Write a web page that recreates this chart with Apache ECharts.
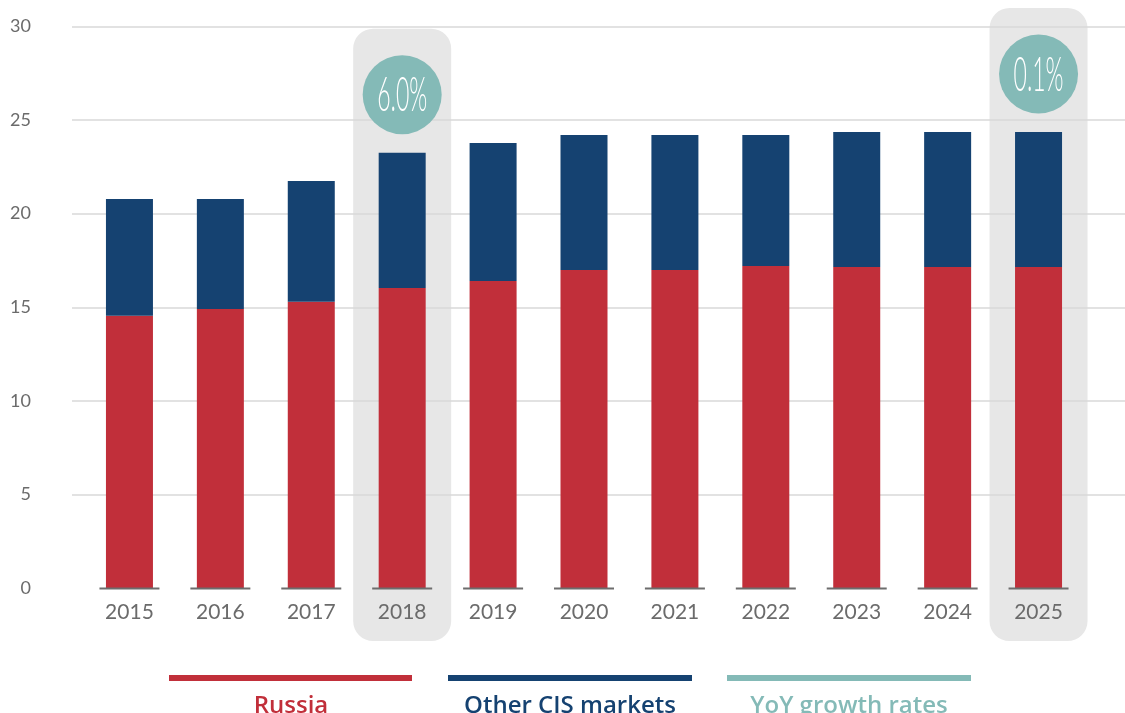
<!DOCTYPE html>
<html>
<head>
<meta charset="utf-8">
<script src="https://cdn.jsdelivr.net/npm/echarts@6/dist/echarts.min.js"></script>
<style>
html,body{margin:0;padding:0;background:#fff;}
#chart{width:1125px;height:713px;}
</style>
</head>
<body>
<div id="chart"></div>
<script>
// ---- data ----
var years = ['2015','2016','2017','2018','2019','2020','2021','2022','2023','2024','2025'];
var russia = [14.55, 14.91, 15.30, 16.03, 16.40, 16.99, 16.99, 17.20, 17.15, 17.15, 17.15];
var otherCIS = [6.23, 5.87, 6.44, 7.23, 7.38, 7.21, 7.21, 7.00, 7.21, 7.21, 7.21];
var growthYears = ['2018', '2025'];
var growthRates = ['6.0%', '0.1%'];
var yTicks = [0, 5, 10, 15, 20, 25, 30];

var seriesNames = ['Russia', 'Other CIS markets', 'YoY growth rates'];
var colors = ['#c12f3a', '#154271', '#84bab7'];

// ---- derived ----
var highlightData = growthYears.map(function (y, i) {
  var idx = years.indexOf(y);
  return [y, russia[idx] + otherCIS[idx], growthRates[i]];
});
var baseData = years.map(function (y) { return [y, 0]; });

var chart = echarts.init(document.getElementById('chart'), null, {renderer: 'canvas'});

var legendFont = '600 24px "Open Sans"';

var option = {
  backgroundColor: '#ffffff',
  animation: false,
  grid: [
    {left: 84, right: 41, top: 26.5, bottom: 125},
    {left: 72, right: 0, top: 26.5, bottom: 125}
  ],
  xAxis: [
    {
      type: 'category', gridIndex: 0, data: years,
      axisLine: {show: false}, axisTick: {show: false},
      axisLabel: {color: '#6b6b6b', fontFamily: 'Lato', fontSize: 21, margin: 14}
    },
    {type: 'value', gridIndex: 1, show: false, min: 0, max: 1}
  ],
  yAxis: [
    {
      type: 'value', gridIndex: 0, min: yTicks[0], max: yTicks[yTicks.length - 1], interval: 5,
      axisLine: {show: false}, axisTick: {show: false}, axisLabel: {show: false},
      splitLine: {show: false}
    },
    {
      type: 'value', gridIndex: 1, min: yTicks[0], max: yTicks[yTicks.length - 1], interval: 5,
      axisLine: {show: false}, axisTick: {show: false},
      axisLabel: {color: '#6b6b6b', fontFamily: 'Lato', fontSize: 18, margin: 41},
      splitLine: {show: true, showMinLine: false, lineStyle: {color: '#d9d9d9', width: 1.5}}
    }
  ],
  series: [
    {
      // highlight boxes behind everything
      type: 'custom', name: 'box', xAxisIndex: 0, yAxisIndex: 0, z: -1, silent: true,
      data: highlightData,
      renderItem: function (params, api) {
        var top = api.coord([api.value(0), api.value(1)]);
        var base = api.coord([api.value(0), 0]);
        var y0 = top[1] - 124;
        return {
          type: 'rect',
          shape: {x: top[0] - 49, y: y0, width: 98, height: base[1] + 53 - y0, r: 20},
          style: {fill: '#e7e7e7'}
        };
      }
    },
    {
      name: seriesNames[0], type: 'bar', stack: 'total', data: russia,
      barWidth: 47, itemStyle: {color: colors[0]}, z: 2
    },
    {
      name: seriesNames[1], type: 'bar', stack: 'total', data: otherCIS,
      barWidth: 47, itemStyle: {color: colors[1]}, z: 2
    },
    {
      // baseline segments under each bar
      type: 'custom', name: 'base', xAxisIndex: 0, yAxisIndex: 0, z: 3, silent: true,
      data: baseData,
      renderItem: function (params, api) {
        var p = api.coord([api.value(0), 0]);
        return {
          type: 'line',
          shape: {x1: p[0] - 30, y1: p[1] + 0.5, x2: p[0] + 30, y2: p[1] + 0.5},
          style: {stroke: '#6d6d6d', lineWidth: 2}
        };
      }
    },
    {
      name: seriesNames[2], type: 'custom', xAxisIndex: 0, yAxisIndex: 0, z: 4, silent: true,
      data: highlightData,
      renderItem: function (params, api) {
        var top = api.coord([api.value(0), api.value(1)]);
        var cx = top[0], cy = top[1] - 58;
        var txt = highlightData[params.dataIndex][2];
        return {
          type: 'group',
          children: [
            {type: 'circle', shape: {cx: cx, cy: cy, r: 39.5}, style: {fill: colors[2]}},
            {
              type: 'text', x: cx, y: cy + 1, scaleX: 0.48,
              style: {
                text: txt, x: 0, y: 0, fill: '#ffffff',
                font: '300 48px Lato', align: 'center', verticalAlign: 'middle'
              }
            }
          ]
        };
      }
    }
  ],
  graphic: [
    {type: 'rect', shape: {x: 169, y: 675, width: 243, height: 6}, style: {fill: colors[0]}},
    {type: 'rect', shape: {x: 448, y: 675, width: 244, height: 6}, style: {fill: colors[1]}},
    {type: 'rect', shape: {x: 727, y: 675, width: 244, height: 6}, style: {fill: colors[2]}},
    {type: 'text', x: 291, y: 706, style: {text: seriesNames[0], fill: colors[0], font: legendFont, align: 'center', verticalAlign: 'middle'}},
    {type: 'text', x: 570, y: 706, style: {text: seriesNames[1], fill: colors[1], font: legendFont, align: 'center', verticalAlign: 'middle'}},
    {type: 'text', x: 849, y: 706, style: {text: seriesNames[2], fill: colors[2], font: legendFont, align: 'center', verticalAlign: 'middle'}}
  ]
};

chart.setOption(option);
</script>
</body>
</html>
